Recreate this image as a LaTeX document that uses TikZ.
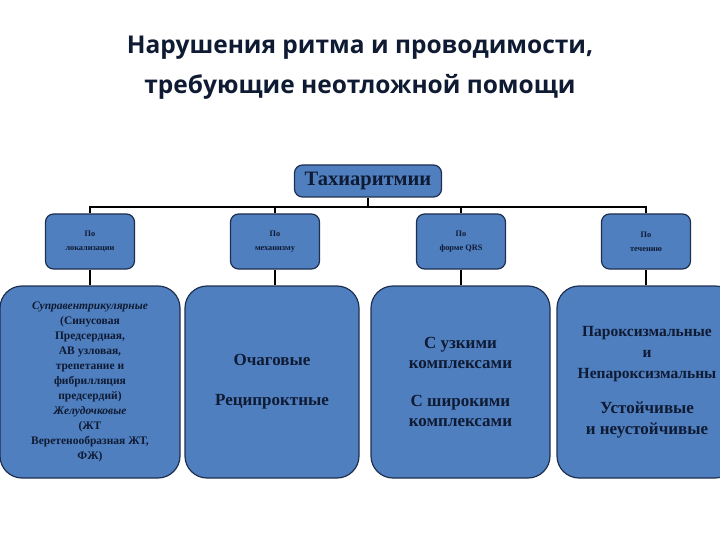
\documentclass[tikz,border=0pt]{standalone}
\usepackage{fontspec}
\setmainfont{Liberation Serif}
\newfontfamily\titlefont{Open Sans}
\definecolor{boxfill}{HTML}{4F7FBF}
\definecolor{boxline}{HTML}{1F2F4F}
\definecolor{txt}{HTML}{0F1A33}
\begin{document}
\begin{tikzpicture}[x=1pt,y=-1pt,
  box/.style={draw=boxline,line width=1.2pt,fill=boxfill,rounded corners=8pt,inner sep=0pt},
  bigbox/.style={draw=boxline,line width=1.2pt,fill=boxfill,rounded corners=22pt,inner sep=0pt},
  conn/.style={line width=2pt,black}]
\useasboundingbox (0,0) rectangle (720,540);
\node[font=\titlefont\bfseries\fontsize{24.5}{40}\selectfont,text=txt,align=center] (title) at (360,68) {Нарушения ритма и проводимости,\\требующие неотложной помощи};
\node[box,minimum width=147pt,minimum height=32pt,font=\bfseries\fontsize{20.5}{24}\selectfont,text=txt] (top) at (368,181) {Тахиаритмии};
\foreach \n/\x/\t in {a/90/{По\\локализации},b/275/{По\\механизму},c/461/{По\\форме QRS},d/646/{По\\течению}}{
  \node[box,minimum width=89pt,minimum height=55pt,align=center,font=\bfseries\fontsize{8.3}{14}\selectfont,text=txt] (s\n) at (\x,241.5) {\t};
}
\node[bigbox,minimum width=180pt,minimum height=192pt,align=center,font=\bfseries\fontsize{11.5}{15}\selectfont,text=txt] (ba) at (90,382) {\textit{Суправентрикулярные}\\(Синусовая\\Предсердная,\\АВ узловая,\\трепетание  и\\фибрилляция\\предсердий)\\\textit{Желудочковые}\\(ЖТ\\Веретенообразная ЖТ,\\ФЖ)};
\node[bigbox,minimum width=174pt,minimum height=192pt,align=center,font=\bfseries\fontsize{17}{40}\selectfont,text=txt] (bb) at (272,382) {Очаговые\\Реципроктные};
\node[bigbox,minimum width=179pt,minimum height=192pt,align=center,font=\bfseries\fontsize{17}{20}\selectfont,text=txt] (bc) at (460.5,382) {С узкими\\комплексами\\[18pt]С широкими\\комплексами};
\node[bigbox,minimum width=180pt,minimum height=192pt,align=center,font=\bfseries\fontsize{15.5}{21}\selectfont,text=txt] (bd) at (647,382) {Пароксизмальные\\и\\Непароксизмальны\\[14pt]\fontsize{17}{21}\selectfont Устойчивые\\\fontsize{17}{21}\selectfont и неустойчивые};
\coordinate (j) at (368,207);
\draw[conn,line width=1.5pt] (top.south) -- (j);
\draw[conn,line width=1.5pt] (sa.north) |- (j) -| (sd.north);
\draw[conn,line width=1.5pt] (sb.north) -- (sb.north |- j);
\draw[conn,line width=1.5pt] (sc.north) -- (sc.north |- j);
\foreach \n in {a,b,c,d}{\draw[conn] (s\n.south) -- (s\n.south |- b\n.north);}
\end{tikzpicture}
\end{document}
